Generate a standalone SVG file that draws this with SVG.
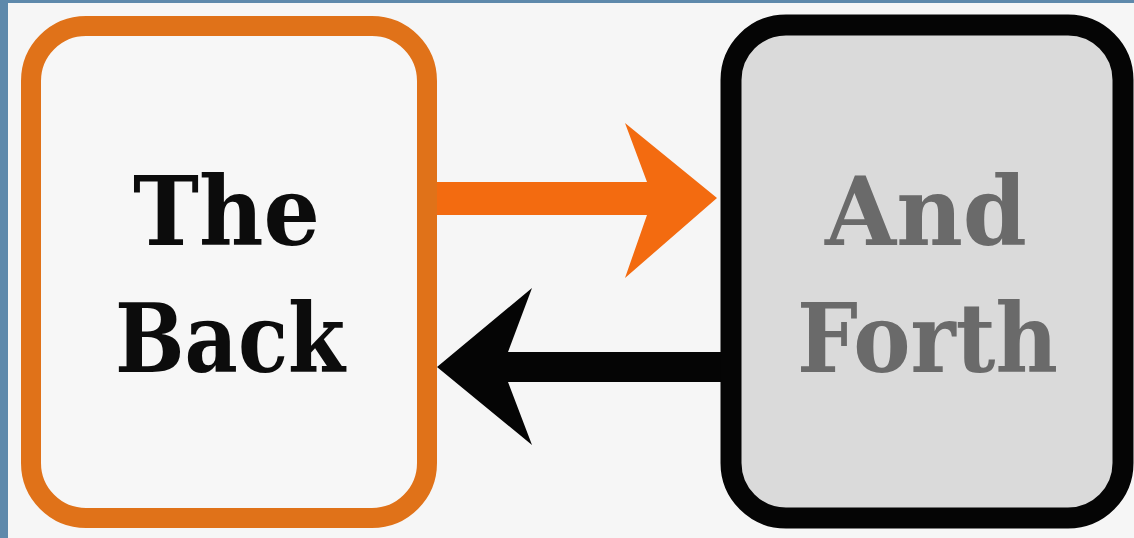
<svg xmlns="http://www.w3.org/2000/svg" width="1134" height="538" viewBox="0 0 1134 538">
  <style>
    .lbl { font-family: "DejaVu Serif", "Liberation Serif", serif; font-weight: bold; font-size: 96px; }
    .dark { fill: #0c0c0c; }
    .grey { fill: #6a6a6a; }
  </style>
  <rect x="0" y="0" width="1134" height="538" fill="#f6f6f6"/>
  <rect x="0" y="0" width="1134" height="3" fill="#5e89ab"/>
  <rect x="0" y="0" width="8" height="538" fill="#5e89ab"/>

  <g id="connectors">
    <polygon id="arrow-forward" points="437,182 647,182 625,123 717,198 625,278 647,215 437,215" fill="#f36b10"/>
    <polygon id="arrow-back" points="723,352 508,352 532,288 437,367 532,445 508,382 723,382" fill="#050505"/>
  </g>

  <g id="node-back">
    <rect x="31" y="26" width="396" height="492" rx="55" ry="55" fill="#f7f7f7" stroke="#e07219" stroke-width="20"/>
    <text class="lbl dark" x="133" y="245" textLength="187" lengthAdjust="spacingAndGlyphs">The</text>
    <text class="lbl dark" x="115" y="372" textLength="230" lengthAdjust="spacingAndGlyphs">Back</text>
  </g>

  <g id="node-forth">
    <rect x="731" y="25" width="392" height="493" rx="55" ry="55" fill="#dadada" stroke="#050505" stroke-width="21"/>
    <text class="lbl grey" x="825" y="245" textLength="202" lengthAdjust="spacingAndGlyphs">And</text>
    <text class="lbl grey" x="797" y="372" textLength="261" lengthAdjust="spacingAndGlyphs">Forth</text>
  </g>
</svg>
